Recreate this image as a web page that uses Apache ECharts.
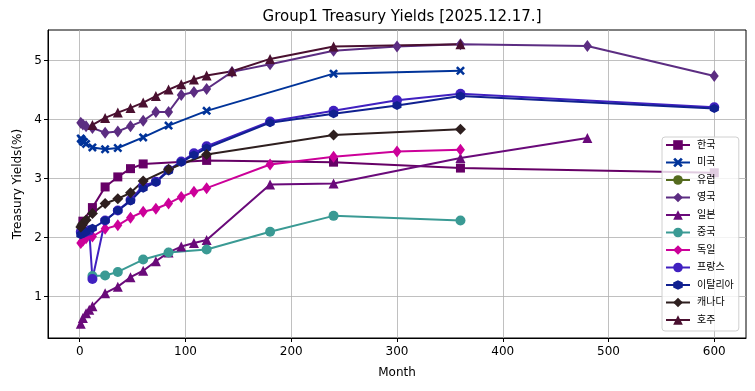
<!DOCTYPE html>
<html>
<head>
<meta charset="utf-8">
<script src="https://cdn.jsdelivr.net/npm/echarts@6/dist/echarts.min.js"></script>
<style>
html,body{margin:0;padding:0;background:#fff;}
#chart{width:755px;height:391px;}
</style>
</head>
<body>
<div id="chart"></div>
<script>
// ---- data ----
const seriesNames = ['한국','미국','유럽','영국','일본','중국','독일','프랑스','이탈리아','캐나다','호주'];
const xTicks = [0,100,200,300,400,500,600];
const yTicks = [1,2,3,4,5];

const krMonths = [3,12,24,36,48,60,120,240,360,600];
const krYields = [2.28,2.51,2.86,3.03,3.17,3.25,3.31,3.28,3.18,3.10];

const usMonths = [1,2,3,4,6,12,24,36,60,84,120,240,360];
const usYields = [3.68,3.66,3.63,3.62,3.59,3.53,3.50,3.52,3.70,3.90,4.15,4.78,4.83];

const euMonths = [];
const euYields = [];

const ukMonths = [1,3,6,12,24,36,48,60,72,84,96,108,120,144,180,240,300,360,480,600];
const ukYields = [3.95,3.92,3.89,3.86,3.78,3.80,3.89,3.98,4.13,4.13,4.42,4.47,4.52,4.81,4.94,5.17,5.24,5.28,5.25,4.74];

const jpMonths = [1,3,6,9,12,24,36,48,60,72,84,96,108,120,180,240,360,480];
const jpYields = [0.54,0.64,0.72,0.78,0.84,1.06,1.17,1.33,1.44,1.60,1.75,1.85,1.91,1.96,2.90,2.92,3.35,3.69];

const cnMonths = [12,24,36,60,84,120,180,240,360];
const cnYields = [1.35,1.36,1.42,1.63,1.75,1.80,2.10,2.37,2.29];

const deMonths = [1,3,6,12,24,36,48,60,72,84,96,108,120,180,240,300,360];
const deYields = [1.91,1.95,1.99,2.02,2.15,2.21,2.34,2.44,2.49,2.58,2.69,2.78,2.84,3.24,3.37,3.46,3.49];

const frMonths = [1,3,6,9,12,24,36,48,60,72,84,96,108,120,180,240,300,360,600];
const frYields = [2.10,2.08,2.10,2.12,1.30,2.29,2.46,2.64,2.88,2.95,3.15,3.29,3.43,3.55,3.97,4.15,4.33,4.44,4.21];

const itMonths = [1,3,6,12,24,36,48,60,72,84,96,108,120,180,240,300,360,600];
const itYields = [2.05,2.07,2.10,2.16,2.29,2.46,2.62,2.84,2.94,3.13,3.28,3.40,3.52,3.95,4.10,4.24,4.40,4.19];

const caMonths = [1,2,3,6,12,24,36,48,60,84,120,240,360];
const caYields = [2.18,2.21,2.24,2.30,2.41,2.58,2.66,2.76,2.96,3.16,3.41,3.74,3.84];

const auMonths = [12,24,36,48,60,72,84,96,108,120,144,180,240,360];
const auYields = [3.91,4.03,4.12,4.20,4.29,4.40,4.51,4.60,4.68,4.75,4.82,5.03,5.24,5.28];

// ---- styling ----
const xPath = 'path://M2,0 L5,3 L8,0 L10,2 L7,5 L10,8 L8,10 L5,7 L2,10 L0,8 L3,5 L0,2 Z';
const hexPath = 'path://M5,0 L9.33,2.5 L9.33,7.5 L5,10 L0.67,7.5 L0.67,2.5 Z';
const styles = [
  {c:'#660066', s:'rect', z:9},
  {c:'#003399', s:xPath, z:9},
  {c:'#556b1f', s:'circle', z:9},
  {c:'#5c2d82', s:'diamond', z:[9,12]},
  {c:'#6a0a7a', s:'triangle', z:10},
  {c:'#3a9a94', s:'circle', z:10},
  {c:'#cc0099', s:'diamond', z:[9,12]},
  {c:'#4020c0', s:'circle', z:10},
  {c:'#102090', s:hexPath, z:9},
  {c:'#2e1f1f', s:'diamond', z:[11,11]},
  {c:'#4a1030', s:'triangle', z:10}
];
const monthsList = [krMonths,usMonths,euMonths,ukMonths,jpMonths,cnMonths,deMonths,frMonths,itMonths,caMonths,auMonths];
const yieldsList = [krYields,usYields,euYields,ukYields,jpYields,cnYields,deYields,frYields,itYields,caYields,auYields];

const series = seriesNames.map((name,i)=>({
  name: name,
  type: 'line',
  data: monthsList[i].map((m,j)=>[m, yieldsList[i][j]]),
  color: styles[i].c,
  symbol: styles[i].s,
  symbolSize: styles[i].z,
  showAllSymbol: true,
  lineStyle: {width: 2, color: styles[i].c},
  itemStyle: {color: styles[i].c},
  emphasis: {disabled: true},
  animation: false
}));

const FONT = '"DejaVu Sans", "Noto Sans CJK KR", sans-serif';
const chart = echarts.init(document.getElementById('chart'), null, {renderer:'canvas'});
chart.setOption({
  animation: false,
  backgroundColor: '#ffffff',
  textStyle: {fontFamily: FONT},
  title: {
    text: 'Group1 Treasury Yields [2025.12.17.]',
    left: 397, top: 5, textAlign: 'center',
    textStyle: {fontFamily: FONT, fontSize: 15, fontWeight: 'normal', color: '#000'}
  },
  grid: {left: 48, right: 9, top: 30, bottom: 53, show: true, borderColor: '#000', borderWidth: 1, backgroundColor: 'transparent'},
  legend: {
    orient: 'vertical', left: 662, top: 137,
    data: seriesNames,
    itemWidth: 24, itemHeight: 12, itemGap: 7.5,
    padding: [3, 5, 6, 3],
    backgroundColor: 'rgba(255,255,255,0.8)',
    borderColor: '#d0d0d0', borderWidth: 1, borderRadius: 3,
    textStyle: {fontFamily: FONT, fontSize: 10, color: '#000', padding: [0,0,0,2]}
  },
  xAxis: {
    type: 'value', min: -30, max: 630,
    name: 'Month', nameLocation: 'middle', nameGap: 29,
    nameTextStyle: {fontFamily: FONT, fontSize: 12, color: '#000'},
    axisLine: {show: true, onZero: false, lineStyle: {color: '#000', width: 1}},
    axisTick: {show: true, inside: false, length: 4, customValues: xTicks, lineStyle: {color: '#000'}},
    axisLabel: {customValues: xTicks, margin: 8, fontFamily: FONT, fontSize: 12, color: '#000'},
    splitLine: {show: true, lineStyle: {color: '#b0b0b0', width: 0.8}}
  },
  yAxis: {
    type: 'value', min: 0.3, max: 5.52,
    name: 'Treasury Yields(%)', nameLocation: 'middle', nameGap: 18,
    nameTextStyle: {fontFamily: FONT, fontSize: 12, color: '#000'},
    axisLine: {show: true, onZero: false, lineStyle: {color: '#000', width: 1}},
    axisTick: {show: true, inside: false, length: 4, customValues: yTicks, lineStyle: {color: '#000'}},
    axisLabel: {customValues: yTicks, margin: 6, fontFamily: FONT, fontSize: 12, color: '#000'},
    splitLine: {show: true, lineStyle: {color: '#b0b0b0', width: 0.8}}
  },
  series: series
});
</script>
</body>
</html>
